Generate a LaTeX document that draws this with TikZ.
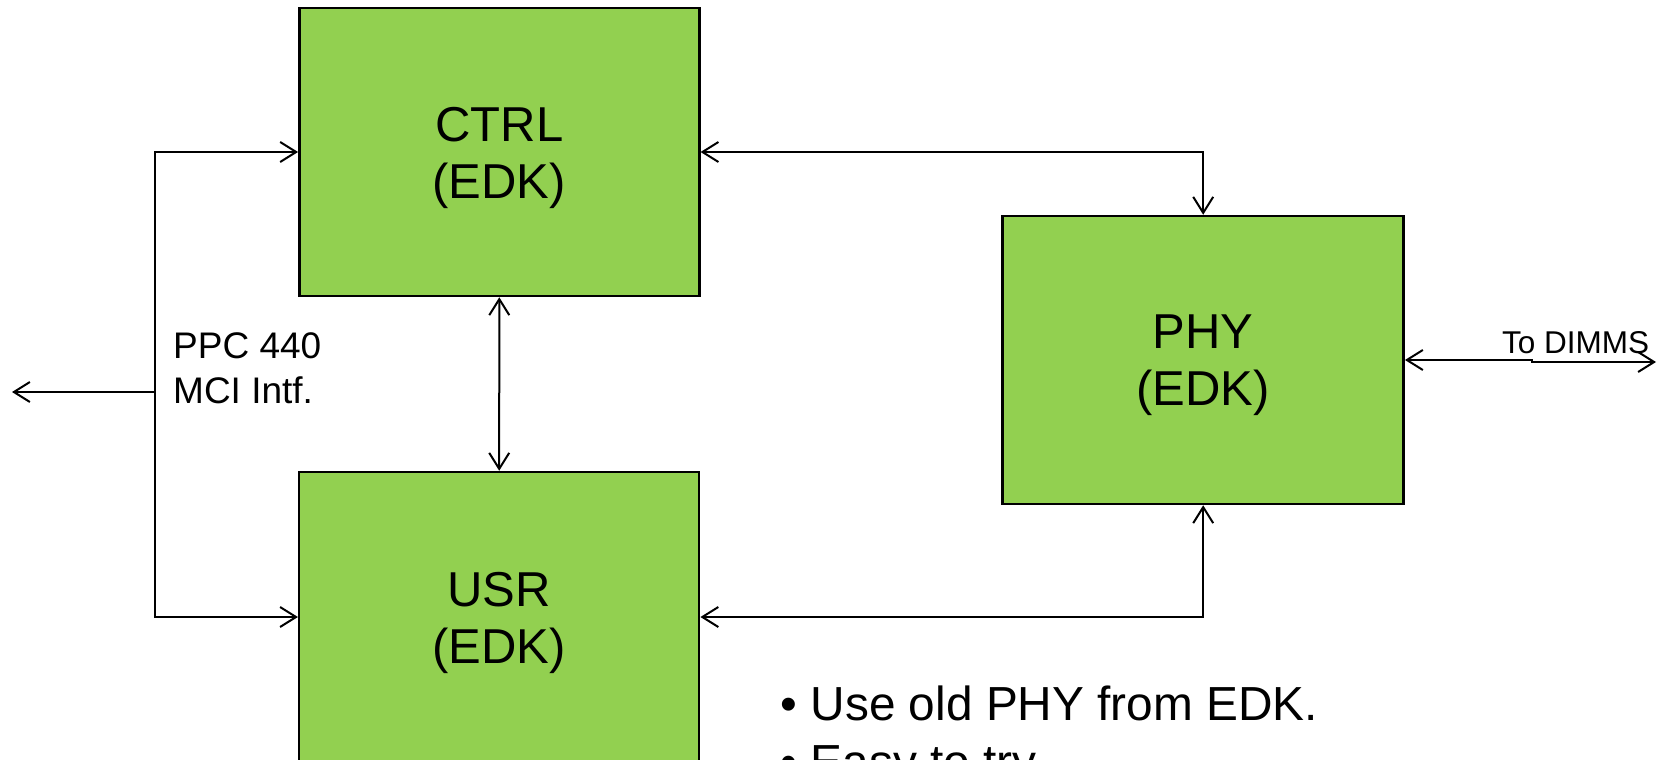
\documentclass[tikz,border=0pt]{standalone}
\usepackage{fontspec}
\setmainfont{Liberation Sans}
\usetikzlibrary{arrows.meta}
\definecolor{boxgreen}{HTML}{92D050}
\tikzset{
  blockbox/.style={draw=black, line width=2.5pt, fill=boxgreen, inner sep=0pt},
  blocklabel/.style={align=center, inner sep=0pt, font=\fontsize{49}{57}\selectfont},
  conn/.style={line width=2pt, {Straight Barb[length=16pt,width=20pt]}-{Straight Barb[length=16pt,width=20pt]}},
  connto/.style={line width=2pt, -{Straight Barb[length=16pt,width=20pt]}},
  smalltext/.style={anchor=base west, inner sep=0pt, font=\fontsize{37}{45}\selectfont},
  dimmtext/.style={anchor=base west, inner sep=0pt, font=\fontsize{31.5}{37}\selectfont},
  bullettext/.style={anchor=base west, inner sep=0pt, font=\fontsize{47.8}{58}\selectfont}
}
\begin{document}
\begin{tikzpicture}[x=1pt,y=-1pt]
\useasboundingbox (0,0) rectangle (1658,760);
\begin{scope}
\clip (0,0) rectangle (1658,760);
% boxes
\node[blockbox, minimum width=400pt, minimum height=288pt] (ctrl) at (499.3,152) {};
\node[blockbox, minimum width=400pt, minimum height=290pt] (usr) at (499.2,617) {};
\node[blockbox, minimum width=401pt, minimum height=288pt] (phy) at (1203.2,360) {};
\node[blocklabel] (ctrlt) at (499.3,157.5) {CTRL\\(EDK)};
\node[blocklabel] (usrt) at (499.2,622.5) {USR\\(EDK)};
\node[blocklabel] (phyt) at (1203.2,365.5) {PHY\\(EDK)};

% coordinates
\coordinate (j) at (155,392);
\coordinate (lft) at (12,392);
\coordinate (jog1) at (1532,360);
\coordinate (jog2) at (1532,362);
\coordinate (dimm) at (1656,362);

% connectors
\draw[connto] (j) |- (ctrl.west);
\draw[connto] (j) |- (usr.west);
\draw[connto] (j) -- (lft);
\draw[conn] (ctrl.east) -| (phy.north);
\draw[conn] (usr.east) -| (phy.south);
\draw[conn] (ctrl.south) -- (usr.north);
\draw[conn] (phy.east) -- (jog1) -- (jog2) -- (dimm);

% texts
\node[smalltext] (ppc) at (173,358) {PPC 440};
\node[smalltext] (mci) at (173,403) {MCI Intf.};
\node[dimmtext] (todimm) at (1502,353) {To DIMMS};
\node[bullettext] (b1) at (780.5,720) {\textbullet\ Use old PHY from EDK.};
\node[bullettext] (b2) at (780.5,778) {\textbullet\ Easy to try.};
\end{scope}
\end{tikzpicture}
\end{document}
